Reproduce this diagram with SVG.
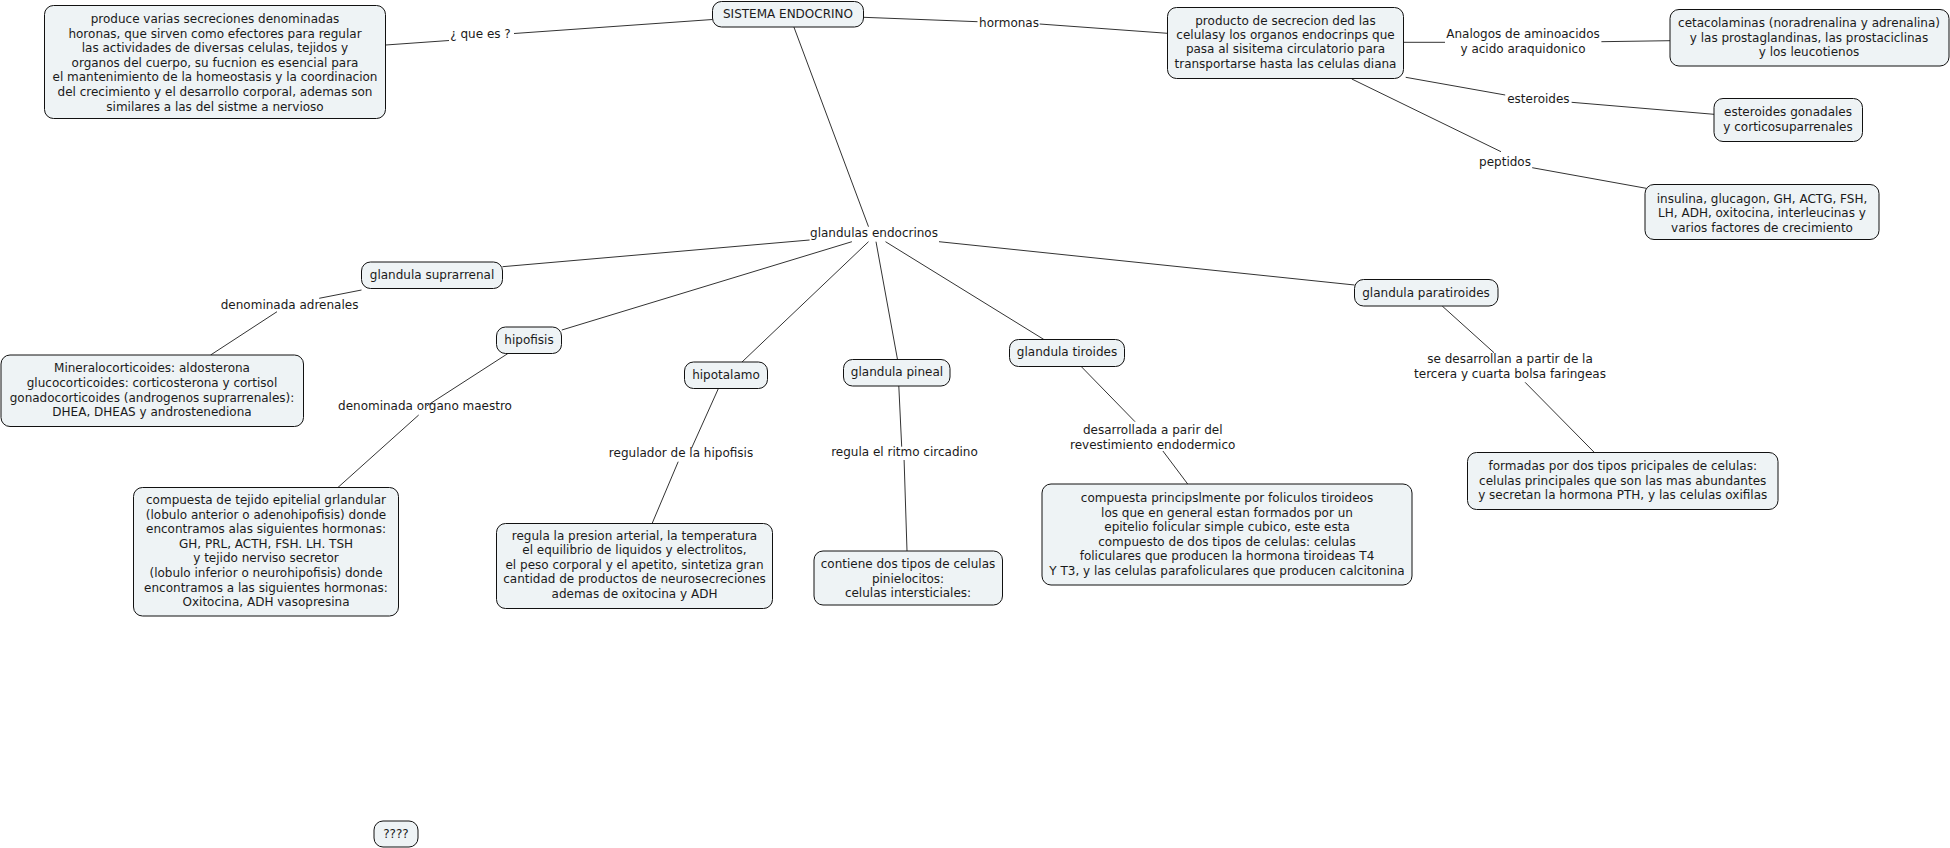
<svg xmlns="http://www.w3.org/2000/svg" width="1950" height="848" viewBox="0 0 1950 848">
<style>
.n rect{fill:#eef3f5;stroke:#111;stroke-width:1}
text{font-family:"DejaVu Sans",Verdana,sans-serif;font-size:12px;fill:#1a1a1a;text-anchor:middle}
.c line{stroke:#333;stroke-width:1}
</style>
<rect width="1950" height="848" fill="#fff"/>
<g class="c" id="connectors">
<line x1="385.6" y1="45" x2="449" y2="40.5"/>
<line x1="514" y1="33.5" x2="712.5" y2="19.5"/>
<line x1="863.5" y1="17.3" x2="977.5" y2="21.7"/>
<line x1="1039.7" y1="24" x2="1167.5" y2="33.3"/>
<line x1="793.9" y1="27" x2="868.5" y2="226.7"/>
<line x1="1403.6" y1="42.3" x2="1445" y2="42.3"/>
<line x1="1601.4" y1="41.7" x2="1670" y2="40.7"/>
<line x1="1405.7" y1="77.3" x2="1505.2" y2="95"/>
<line x1="1571.6" y1="102.3" x2="1714" y2="114.3"/>
<line x1="1351.8" y1="79" x2="1501" y2="151.7"/>
<line x1="1532.2" y1="167.7" x2="1646.2" y2="188.3"/>
<line x1="809.6" y1="240" x2="502.5" y2="266.7"/>
<line x1="851.9" y1="241.7" x2="561.8" y2="330"/>
<line x1="868.5" y1="241.7" x2="742" y2="362"/>
<line x1="876" y1="241.7" x2="897.5" y2="359.5"/>
<line x1="885.5" y1="241.7" x2="1043.9" y2="339.5"/>
<line x1="939" y1="241.7" x2="1354.5" y2="285"/>
<line x1="361.5" y1="290" x2="319.2" y2="298.3"/>
<line x1="277" y1="311.7" x2="210.6" y2="355"/>
<line x1="507.9" y1="353.5" x2="427" y2="405.7"/>
<line x1="418.7" y1="415" x2="337.9" y2="487.5"/>
<line x1="718.4" y1="388.5" x2="691.5" y2="448.3"/>
<line x1="678.2" y1="461.7" x2="652.1" y2="523.5"/>
<line x1="898.8" y1="386" x2="901.7" y2="446.7"/>
<line x1="904.1" y1="460" x2="907" y2="551"/>
<line x1="1081.2" y1="366.5" x2="1135" y2="421.7"/>
<line x1="1162.9" y1="451" x2="1187.7" y2="484"/>
<line x1="1442.2" y1="306" x2="1494" y2="352.7"/>
<line x1="1525.1" y1="382.3" x2="1594.4" y2="452.5"/>
</g>
<g id="labels">
<text x="480.5" y="38.3">¿ que es ?</text>
<text x="1009" y="27.3">hormonas</text>
<text x="874" y="236.7">glandulas endocrinos</text>
<text x="1523" y="38">Analogos de aminoacidos<tspan x="1523" dy="15">y acido araquidonico</tspan></text>
<text x="1538.4" y="103">esteroides</text>
<text x="1505" y="165.7">peptidos</text>
<text x="289.6" y="309">denominada adrenales</text>
<text x="425" y="410">denominada organo maestro</text>
<text x="681" y="456.7">regulador de la hipofisis</text>
<text x="904.5" y="456.3">regula el ritmo circadino</text>
<text x="1152.7" y="434.3">desarrollada a parir del<tspan x="1152.7" dy="14.4">revestimiento endodermico</tspan></text>
<text x="1510" y="363.3">se desarrollan a partir de la<tspan x="1510" dy="14.4">tercera y cuarta bolsa faringeas</tspan></text>
</g>
<g class="n" id="n-definicion">
<rect x="44.5" y="5.5" width="341" height="113" rx="9"/>
<text x="215" y="23">produce varias secreciones denominadas<tspan x="215" dy="14.6">horonas, que sirven como efectores para regular</tspan><tspan x="215" dy="14.6">las actividades de diversas celulas, tejidos y</tspan><tspan x="215" dy="14.6">organos del cuerpo, su fucnion es esencial para</tspan><tspan x="215" dy="14.6">el mantenimiento de la homeostasis y la coordinacion</tspan><tspan x="215" dy="14.6">del crecimiento y el desarrollo corporal, ademas son</tspan><tspan x="215" dy="14.6">similares a las del sistme a nervioso</tspan></text>
</g>
<g class="n" id="n-sistema">
<rect x="712.5" y="1.5" width="151" height="25.5" rx="9"/>
<text x="788" y="18">SISTEMA ENDOCRINO</text>
</g>
<g class="n" id="n-producto">
<rect x="1167.5" y="7.5" width="236" height="71" rx="9"/>
<text x="1285.5" y="24.7">producto de secrecion ded las<tspan x="1285.5" dy="14.3">celulasy los organos endocrinps que</tspan><tspan x="1285.5" dy="14.3">pasa al sisitema circulatorio para</tspan><tspan x="1285.5" dy="14.3">transportarse hasta las celulas diana</tspan></text>
</g>
<g class="n" id="n-cetacolaminas">
<rect x="1670" y="9.5" width="279" height="56.5" rx="9"/>
<text x="1809" y="26.7">cetacolaminas (noradrenalina y adrenalina)<tspan x="1809" dy="14.8">y las prostaglandinas, las prostaciclinas</tspan><tspan x="1809" dy="14.8">y los leucotienos</tspan></text>
</g>
<g class="n" id="n-gonadales">
<rect x="1714" y="98.5" width="148.5" height="43" rx="9"/>
<text x="1788" y="116">esteroides gonadales<tspan x="1788" dy="14.7">y corticosuparrenales</tspan></text>
</g>
<g class="n" id="n-insulina">
<rect x="1645" y="184.5" width="234" height="55" rx="9"/>
<text x="1762" y="203">insulina, glucagon, GH, ACTG, FSH,<tspan x="1762" dy="14.4">LH, ADH, oxitocina, interleucinas y</tspan><tspan x="1762" dy="14.4">varios factores de crecimiento</tspan></text>
</g>
<g class="n" id="n-suprarrenal">
<rect x="361.5" y="262" width="141" height="26.5" rx="9"/>
<text x="432" y="278.5">glandula suprarrenal</text>
</g>
<g class="n" id="n-mineralocorticoides">
<rect x="1" y="355" width="302.5" height="71.5" rx="9"/>
<text x="152" y="372.3">Mineralocorticoides: aldosterona<tspan x="152" dy="14.6">glucocorticoides: corticosterona y cortisol</tspan><tspan x="152" dy="14.6">gonadocorticoides (androgenos suprarrenales):</tspan><tspan x="152" dy="14.6">DHEA, DHEAS y androstenediona</tspan></text>
</g>
<g class="n" id="n-hipofisis">
<rect x="496.5" y="327" width="65" height="26.5" rx="9"/>
<text x="529" y="343.5">hipofisis</text>
</g>
<g class="n" id="n-compuesta-tejido">
<rect x="133.5" y="487.5" width="265" height="128.5" rx="9"/>
<text x="266" y="504">compuesta de tejido epitelial grlandular<tspan x="266" dy="14.6">(lobulo anterior o adenohipofisis) donde</tspan><tspan x="266" dy="14.6">encontramos alas siguientes hormonas:</tspan><tspan x="266" dy="14.6">GH, PRL, ACTH, FSH. LH. TSH</tspan><tspan x="266" dy="14.6">y tejido nerviso secretor</tspan><tspan x="266" dy="14.6">(lobulo inferior o neurohipofisis) donde</tspan><tspan x="266" dy="14.6">encontramos a las siguientes hormonas:</tspan><tspan x="266" dy="14.6">Oxitocina, ADH vasopresina</tspan></text>
</g>
<g class="n" id="n-hipotalamo">
<rect x="684.5" y="362" width="83" height="26.5" rx="9"/>
<text x="726" y="378.5">hipotalamo</text>
</g>
<g class="n" id="n-regula">
<rect x="496.5" y="523.5" width="276" height="85" rx="9"/>
<text x="634.5" y="540">regula la presion arterial, la temperatura<tspan x="634.5" dy="14.4">el equilibrio de liquidos y electrolitos,</tspan><tspan x="634.5" dy="14.4">el peso corporal y el apetito, sintetiza gran</tspan><tspan x="634.5" dy="14.4">cantidad de productos de neurosecreciones</tspan><tspan x="634.5" dy="14.4">ademas de oxitocina y ADH</tspan></text>
</g>
<g class="n" id="n-pineal">
<rect x="843.5" y="359.5" width="106.5" height="26.5" rx="9"/>
<text x="897" y="376">glandula pineal</text>
</g>
<g class="n" id="n-contiene">
<rect x="814" y="551" width="188.5" height="54" rx="9"/>
<text x="908" y="568">contiene dos tipos de celulas<tspan x="908" dy="14.6">pinielocitos:</tspan><tspan x="908" dy="14.6">celulas intersticiales:</tspan></text>
</g>
<g class="n" id="n-tiroides">
<rect x="1009.5" y="339.5" width="115" height="27" rx="9"/>
<text x="1067" y="356">glandula tiroides</text>
</g>
<g class="n" id="n-compuesta-foliculos">
<rect x="1042" y="484" width="370" height="101" rx="9"/>
<text x="1227" y="502.3">compuesta principslmente por foliculos tiroideos<tspan x="1227" dy="14.5">los que en general estan formados por un</tspan><tspan x="1227" dy="14.5">epitelio folicular simple cubico, este esta</tspan><tspan x="1227" dy="14.5">compuesto de dos tipos de celulas: celulas</tspan><tspan x="1227" dy="14.5">foliculares que producen la hormona tiroideas T4</tspan><tspan x="1227" dy="14.5">Y T3, y las celulas parafoliculares que producen calcitonina</tspan></text>
</g>
<g class="n" id="n-paratiroides">
<rect x="1354.5" y="279.5" width="143.5" height="26.5" rx="9"/>
<text x="1426" y="296.5">glandula paratiroides</text>
</g>
<g class="n" id="n-formadas">
<rect x="1467.5" y="452.5" width="310.5" height="57" rx="9"/>
<text x="1622.7" y="470">formadas por dos tipos pricipales de celulas:<tspan x="1622.7" dy="14.7">celulas principales que son las mas abundantes</tspan><tspan x="1622.7" dy="14.7">y secretan la hormona PTH, y las celulas oxifilas</tspan></text>
</g>
<g class="n" id="n-interrogante">
<rect x="374" y="821" width="44" height="26" rx="9"/>
<text x="396" y="838">????</text>
</g>
</svg>
